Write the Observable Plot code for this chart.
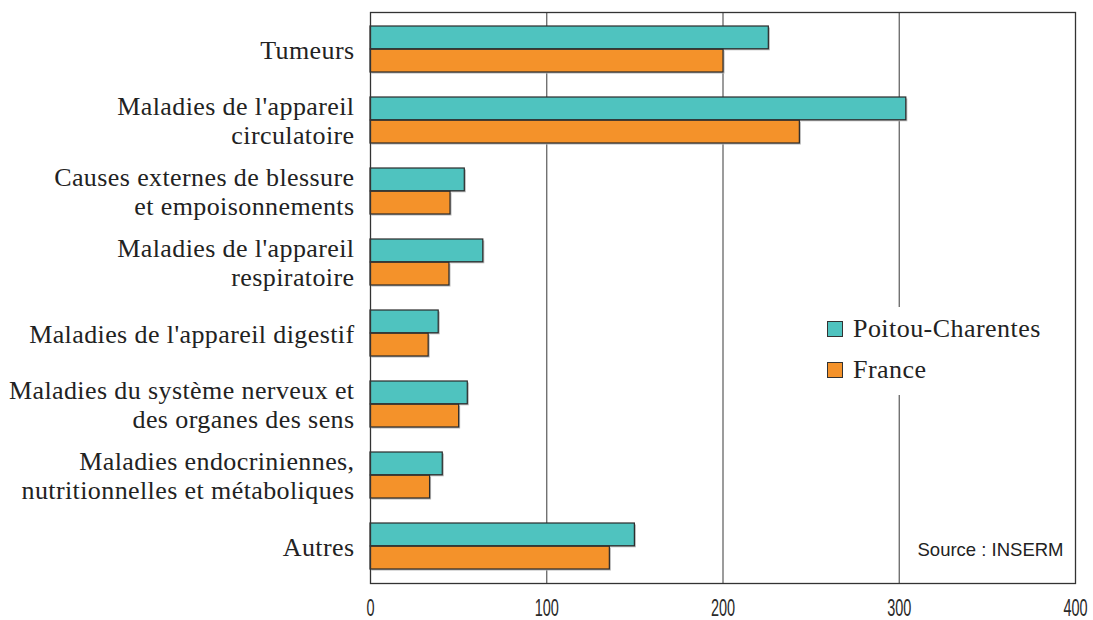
<!DOCTYPE html>
<html>
<head>
<meta charset="utf-8">
<script src="https://cdn.jsdelivr.net/npm/d3@7"></script>
<script src="https://cdn.jsdelivr.net/npm/@observablehq/plot@0.6"></script>
<style>
  html, body { margin: 0; padding: 0; background: #fff; }
  #wrap { position: relative; width: 1093px; height: 620px; }
  #legend { position: absolute; left: 814px; top: 307px; width: 240px; height: 88px; background: #fff;
            font-family: "Liberation Serif", "Times New Roman", serif; font-size: 26px; letter-spacing: 0.45px; color: #222; }
  .row { position: absolute; left: 13px; display: flex; align-items: center; white-space: nowrap; }
  .sw { width: 14px; height: 14px; border: 1.5px solid #333; margin-right: 10px; }
  svg .ylab text { font-family: "Liberation Serif", "Times New Roman", serif !important; letter-spacing: 0.4px; }
  svg .src text { font-family: "Liberation Sans", Arial, sans-serif !important; }
</style>
</head>
<body>
<div id="wrap">
  <div id="chart"></div>
  <div id="legend"></div>
</div>
<script>
const categories = [
  "Tumeurs",
  "Maladies de l'appareil\ncirculatoire",
  "Causes externes de blessure\net empoisonnements",
  "Maladies de l'appareil\nrespiratoire",
  "Maladies de l'appareil digestif",
  "Maladies du système nerveux et\ndes organes des sens",
  "Maladies endocriniennes,\nnutritionnelles et métaboliques",
  "Autres"
];
const seriesNames = ["Poitou-Charentes", "France"];
const poitouCharentes = [226, 304, 53.5, 64, 38.7, 55.2, 41, 150];
const france = [200.3, 243.6, 45.4, 44.8, 33, 50.3, 33.8, 135.8];
const xTicks = [0, 100, 200, 300, 400];
const gridTicks = [100, 200, 300];
const colors = ["#4fc3bf", "#f4922a"];
const sourceText = "Source : INSERM";

const W = 1093, H = 620;
const mt = 12, mb = 37, ml = 370, mr = 18;
const pI = 0.35, pO = 0.17;
const step = (H - mt - mb) / (categories.length - pI + 2 * pO);
const bw = step * (1 - pI);

const rows = categories.map((c, i) => ({cat: c, pc: poitouCharentes[i], fr: france[i]}));

const chart = Plot.plot({
  width: W,
  height: H,
  marginTop: mt,
  marginBottom: mb,
  marginLeft: ml,
  marginRight: mr,
  style: {color: "#222", background: "#fff"},
  x: {domain: [0, 400]},
  y: {domain: categories, paddingInner: pI, paddingOuter: pO},
  marks: [
    Plot.ruleX(gridTicks, {stroke: "#5a5a5a", strokeWidth: 1.2}),
    Plot.barX(rows, {x: "pc", y: "cat", insetBottom: bw / 2, fill: "#b5b5b5", dx: 1.5, dy: 1.5}),
    Plot.barX(rows, {x: "fr", y: "cat", insetTop: bw / 2, fill: "#b5b5b5", dx: 1.5, dy: 1.5}),
    Plot.barX(rows, {x: "pc", y: "cat", insetBottom: bw / 2, fill: colors[0], stroke: "#2b2b2b", strokeWidth: 1.2}),
    Plot.barX(rows, {x: "fr", y: "cat", insetTop: bw / 2, fill: colors[1], stroke: "#2b2b2b", strokeWidth: 1.2}),
    Plot.frame({stroke: "#333", strokeWidth: 1.3}),
    Plot.axisY({tickSize: 0, tickPadding: 16, fontSize: 26, lineHeight: 1.08, label: null, fill: "#222",
      fontFamily: "'Liberation Serif', 'Times New Roman', serif", className: "ylab"}),
    Plot.axisX({ticks: xTicks, tickSize: 0, tickPadding: 16, fontSize: 23, label: null,
      fontFamily: "'Liberation Sans', Arial, sans-serif", fill: "#2a2a2a", className: "xlab"}),
    Plot.text([sourceText], {frameAnchor: "bottom-right", dx: -12, dy: -28, fontSize: 18.5,
      fontFamily: "'Liberation Sans', Arial, sans-serif", fill: "#222", className: "src"})
  ]
});
document.getElementById("chart").appendChild(chart);

// narrow the x tick labels horizontally (condensed look), keeping Plot's positions
d3.select(chart).selectAll(".xlab text").each(function () {
  const t = this.getAttribute("transform") || "";
  this.setAttribute("transform", t + " scale(0.63,1)");
});

const legend = document.getElementById("legend");
seriesNames.forEach((name, i) => {
  const row = document.createElement("div");
  row.className = "row";
  row.style.top = (7 + i * 41) + "px";
  const sw = document.createElement("div");
  sw.className = "sw";
  sw.style.background = colors[i];
  const lab = document.createElement("span");
  lab.textContent = name;
  row.appendChild(sw);
  row.appendChild(lab);
  legend.appendChild(row);
});
</script>
</body>
</html>
